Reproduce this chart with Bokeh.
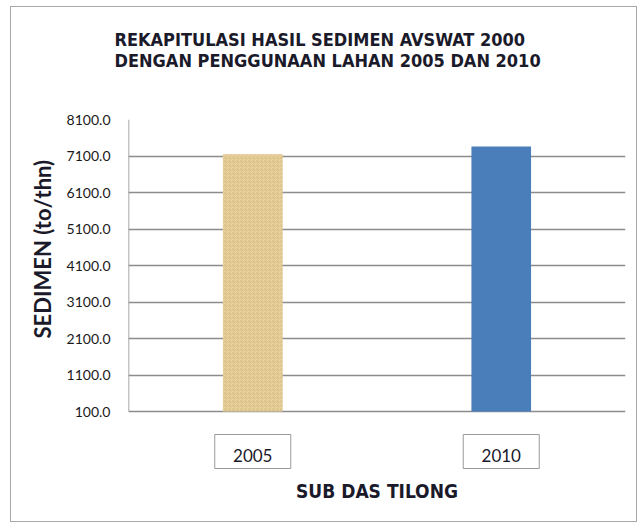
from bokeh.plotting import figure
from bokeh.models import ColumnDataSource, FixedTicker, NumeralTickFormatter, Range1d, Title
from bokeh.core.properties import value
from bokeh.embed import file_html
from bokeh.resources import INLINE

# ---- data ----
categories = ["2005", "2010"]
sediment = [7150.0, 7360.0]
y_ticks = [100, 1100, 2100, 3100, 4100, 5100, 6100, 7100, 8100]

title_text = "REKAPITULASI HASIL SEDIMEN AVSWAT 2000\nDENGAN PENGGUNAAN LAHAN 2005 DAN 2010"
x_title = "SUB DAS TILONG"
y_title = "SEDIMEN (to/thn)"

# ---- styles / layout ----
bar_colors = ["#E9D39E", "#4A7EBB"]
bar_hatch = ["criss_cross", " "]
NARROW = "'DejaVu Sans Condensed', 'Roboto', sans-serif"
INK = "#1a1a2a"

# the frame runs 64px below the value-axis baseline so the boxed category labels fit inside it
axis_px = 292                      # pixels between first and last tick
units_per_px = (y_ticks[-1] - y_ticks[0]) / axis_px
extra_px = 64
y_start = y_ticks[0] - extra_px * units_per_px
box_y = y_ticks[0] - 40 * units_per_px
text_y = y_ticks[0] - 44 * units_per_px

src = ColumnDataSource(dict(cat=categories, val=sediment, color=bar_colors, hatch=bar_hatch))

p = figure(x_range=categories, y_range=Range1d(y_start, y_ticks[-1]),
           width=627, height=516, output_backend="svg", toolbar_location=None,
           min_border_left=117, min_border_right=13, min_border_top=112, min_border_bottom=48,
           background_fill_color="white", border_fill_color="white", outline_line_color=None)
p.styles = {"margin-left": "10px", "margin-top": "6px", "border": "1px solid #a8a8a8"}

# grid (only at the ticks, the 100.0 line is the category baseline)
p.xgrid.grid_line_color = None
p.ygrid.grid_line_color = "#8c8c8c"
p.ygrid.grid_line_width = 1.5

p.vbar(x="cat", top="val", bottom=y_ticks[0], width=0.24, source=src,
       fill_color="color", line_color=None,
       hatch_pattern="hatch", hatch_color="#D2B77E", hatch_alpha=0.45, hatch_scale=4, hatch_weight=1)

# value axis line (from first to last tick only)
p.segment(x0=[0], y0=[y_ticks[0]], x1=[0], y1=[y_ticks[-1]], line_color="#8a8a8a", line_width=1.5)

# boxed category labels
p.rect(x=categories, y=[box_y] * len(categories), width=76, height=34,
       width_units="screen", height_units="screen",
       fill_color="white", line_color="#9a9a9a", line_width=1)
p.text(x=categories, y=[text_y] * len(categories), text=categories,
       text_align="center", text_baseline="middle",
       text_font=value("Lato"), text_font_size="17px", text_color=INK)

# spacer between the frame and the title
p.add_layout(Title(text=" ", text_font_size="1px", standoff=46), "above")

# title
p.title.text = title_text
p.title.align = "left"
p.title.offset = -14
p.title.standoff = 0
p.title.text_font = NARROW
p.title.text_font_style = "bold"
p.title.text_font_size = "18px"
p.title.text_color = INK

# y axis
p.yaxis.ticker = FixedTicker(ticks=y_ticks)
p.yaxis.formatter = NumeralTickFormatter(format="0.0")
p.yaxis.major_tick_line_color = None
p.yaxis.minor_tick_line_color = None
p.yaxis.axis_line_color = None
p.yaxis.major_label_text_font = "Lato"
p.yaxis.major_label_text_font_size = "14px"
p.yaxis.major_label_text_color = "#1a1a1a"
p.yaxis.major_label_standoff = 12

# y title as a left-side title so it can sit beside the value range
p.add_layout(Title(text=y_title, align="left", offset=137, standoff=16, vertical_align="bottom",
                   text_font="Lato", text_font_style="bold", text_font_size="22px",
                   text_color=INK), "left")

# x axis (title only)
p.xaxis.axis_line_color = None
p.xaxis.major_tick_line_color = None
p.xaxis.minor_tick_line_color = None
p.xaxis.major_label_text_color = None
p.xaxis.major_label_text_font_size = "1px"
p.xaxis.major_label_standoff = 0
p.xaxis.axis_label = x_title
p.xaxis.axis_label_text_font = NARROW
p.xaxis.axis_label_text_font_style = "bold"
p.xaxis.axis_label_text_font_size = "19px"
p.xaxis.axis_label_text_color = INK
p.xaxis.axis_label_standoff = -2

open("out.html", "w").write(file_html(p, INLINE))
